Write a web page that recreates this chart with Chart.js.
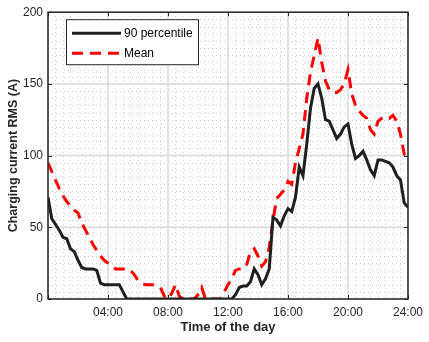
<!DOCTYPE html>
<html>
<head>
<meta charset="utf-8">
<script src="https://cdn.jsdelivr.net/npm/chart.js@4"></script>
<style>
  html, body { margin: 0; padding: 0; background: #fff; }
</style>
</head>
<body>
<canvas id="chart" width="429" height="342"></canvas>
<script>
// quarter-hour samples over the day (hours 0 .. 24)
const hours = Array.from({ length: 97 }, (_, i) => i / 4);

const p90Values = [
  71, 56, 52, 48, 43, 42, 35, 33,
  27, 22, 21, 21, 21, 20, 11, 10,
  10, 10, 10, 10, 5, 0, 0, 0,
  0, 0, 0, 0, 0, 0, 0, 0,
  0, 0, 0, 0, 0, 0, 0, 0,
  0, 0, 0, 0, 0, 0, 0, 0,
  0, 0, 3, 8, 9, 9, 12, 21,
  17, 10, 14, 21, 57, 55, 51, 58,
  63, 61, 71, 92, 86, 108, 133, 147,
  150, 140, 125, 124, 118, 112, 115, 120,
  122, 108, 98, 100, 103, 97, 90, 86,
  97, 97, 96, 95, 92, 86, 83, 67,
  64
];

const meanValues = [
  95, 89, 83, 77, 72, 68, 65, 62,
  60, 53, 48, 43, 38, 34, 30, 27,
  25, 23, 21, 21, 21, 21, 20, 17,
  13, 11, 10, 10, 10, 9, 8, 2,
  0, 4, 10, 2, 0, 0, 0, 0,
  3, 8, 0, 0, 0, 0, 0, 5,
  10, 14, 20, 21, 21, 24, 33, 35,
  30, 23, 26, 36, 55, 70, 73, 76,
  82, 80, 95, 105, 115, 140, 158, 170,
  182, 165, 152, 146, 144, 144, 146, 150,
  160, 143, 135, 131, 128, 126, 118, 115,
  124, 126, 127, 126, 128, 124, 115, 101,
  100
];

const seriesLabels = ['90 percentile', 'Mean'];
const xTickStep = 4;
const yTickStep = 50;

const FONT = "'Liberation Sans', Arial, Helvetica, sans-serif";
const AXIS_COLOR = '#262626';

// minor/major grid, box frame and inward ticks, plus legend box inside the plot
const matlabLook = {
  id: 'matlabLook',
  beforeDatasetsDraw(chart) {
    const { ctx, chartArea: a, scales: { x, y } } = chart;
    ctx.save();
    ctx.lineWidth = 1;

    // minor dotted grid
    ctx.strokeStyle = '#cccccc';
    ctx.setLineDash([1, 3]);
    ctx.beginPath();
    for (let v = 0.5; v < 24; v += 0.5) {
      if (v % xTickStep === 0) continue;
      const px = Math.round(x.getPixelForValue(v)) + 0.5;
      ctx.moveTo(px, a.top);
      ctx.lineTo(px, a.bottom);
    }
    for (let v = 5; v < 200; v += 5) {
      if (v % yTickStep === 0) continue;
      const py = Math.round(y.getPixelForValue(v)) + 0.5;
      ctx.moveTo(a.left, py);
      ctx.lineTo(a.right, py);
    }
    ctx.stroke();

    // major grid
    ctx.setLineDash([]);
    ctx.strokeStyle = '#dadada';
    ctx.lineWidth = 1.5;
    ctx.beginPath();
    x.ticks.forEach(t => {
      const px = x.getPixelForValue(t.value);
      ctx.moveTo(px, a.top);
      ctx.lineTo(px, a.bottom);
    });
    y.ticks.forEach(t => {
      const py = y.getPixelForValue(t.value);
      ctx.moveTo(a.left, py);
      ctx.lineTo(a.right, py);
    });
    ctx.stroke();
    ctx.restore();
  },
  afterDatasetsDraw(chart) {
    const { ctx, chartArea: a, scales: { x, y } } = chart;
    ctx.save();
    ctx.strokeStyle = AXIS_COLOR;
    ctx.lineWidth = 1;
    ctx.beginPath();
    x.ticks.forEach(t => {
      const px = Math.round(x.getPixelForValue(t.value)) + 0.5;
      ctx.moveTo(px, a.bottom);
      ctx.lineTo(px, a.bottom - 4);
      ctx.moveTo(px, a.top);
      ctx.lineTo(px, a.top + 4);
    });
    y.ticks.forEach(t => {
      const py = Math.round(y.getPixelForValue(t.value)) + 0.5;
      ctx.moveTo(a.left, py);
      ctx.lineTo(a.left + 4, py);
      ctx.moveTo(a.right, py);
      ctx.lineTo(a.right - 4, py);
    });
    ctx.stroke();
    ctx.lineWidth = 1.5;
    ctx.strokeRect(a.left, a.top, a.right - a.left, a.bottom - a.top);
    ctx.restore();
  },
  afterDraw(chart) {
    const { ctx, chartArea: a } = chart;
    const box = { x: a.left + 18, y: a.top + 7, w: 132, h: 45 };
    ctx.save();
    ctx.fillStyle = '#fff';
    ctx.fillRect(box.x, box.y, box.w, box.h);
    ctx.strokeStyle = AXIS_COLOR;
    ctx.lineWidth = 1;
    ctx.strokeRect(box.x + 0.5, box.y + 0.5, box.w, box.h);
    ctx.font = '12px ' + FONT;
    ctx.textBaseline = 'middle';
    chart.data.datasets.forEach((ds, i) => {
      const ly = box.y + 14 + i * 20;
      ctx.strokeStyle = ds.borderColor;
      ctx.lineWidth = ds.borderWidth;
      ctx.setLineDash(ds.borderDash || []);
      ctx.beginPath();
      ctx.moveTo(box.x + 6, ly);
      ctx.lineTo(box.x + 55, ly);
      ctx.stroke();
      ctx.setLineDash([]);
      ctx.fillStyle = '#000';
      ctx.fillText(ds.label, box.x + 58, ly);
    });
    ctx.restore();
  }
};

new Chart(document.getElementById('chart'), {
  type: 'line',
  data: {
    datasets: [
      {
        label: seriesLabels[0],
        data: hours.map((h, i) => ({ x: h, y: p90Values[i] })),
        borderColor: '#1f1f1f',
        borderWidth: 3,
        pointRadius: 0,
        tension: 0,
        fill: false
      },
      {
        label: seriesLabels[1],
        data: hours.map((h, i) => ({ x: h, y: meanValues[i] })),
        borderColor: '#ff0000',
        borderWidth: 3,
        borderDash: [11, 7],
        pointRadius: 0,
        tension: 0,
        fill: false
      }
    ]
  },
  options: {
    responsive: false,
    animation: false,
    layout: { padding: { top: 11, right: 19, left: 0, bottom: 0 } },
    plugins: {
      legend: { display: false },
      tooltip: { enabled: false }
    },
    scales: {
      x: {
        type: 'linear',
        min: 0,
        max: 24,
        grid: { display: false, drawTicks: false },
        border: { display: false },
        ticks: {
          stepSize: xTickStep,
          autoSkip: false,
          maxRotation: 0,
          padding: 6,
          color: AXIS_COLOR,
          font: { family: FONT, size: 12 },
          callback: v => v === 0 ? '' : String(v).padStart(2, '0') + ':00'
        },
        title: {
          display: true,
          text: 'Time of the day',
          color: AXIS_COLOR,
          font: { family: FONT, size: 13, weight: 'bold' },
          padding: { top: 0, bottom: 7 }
        },
        afterFit: s => { s.height = 43; }
      },
      y: {
        min: 0,
        max: 200,
        grid: { display: false, drawTicks: false },
        border: { display: false },
        ticks: {
          stepSize: yTickStep,
          padding: 5,
          color: AXIS_COLOR,
          font: { family: FONT, size: 12 }
        },
        title: {
          display: true,
          text: 'Charging current RMS (A)',
          color: AXIS_COLOR,
          font: { family: FONT, size: 12.5, weight: 'bold' },
          padding: { top: 6, bottom: 0 }
        },
        afterFit: s => { s.width = 48; }
      }
    }
  },
  plugins: [matlabLook]
});
</script>
</body>
</html>
